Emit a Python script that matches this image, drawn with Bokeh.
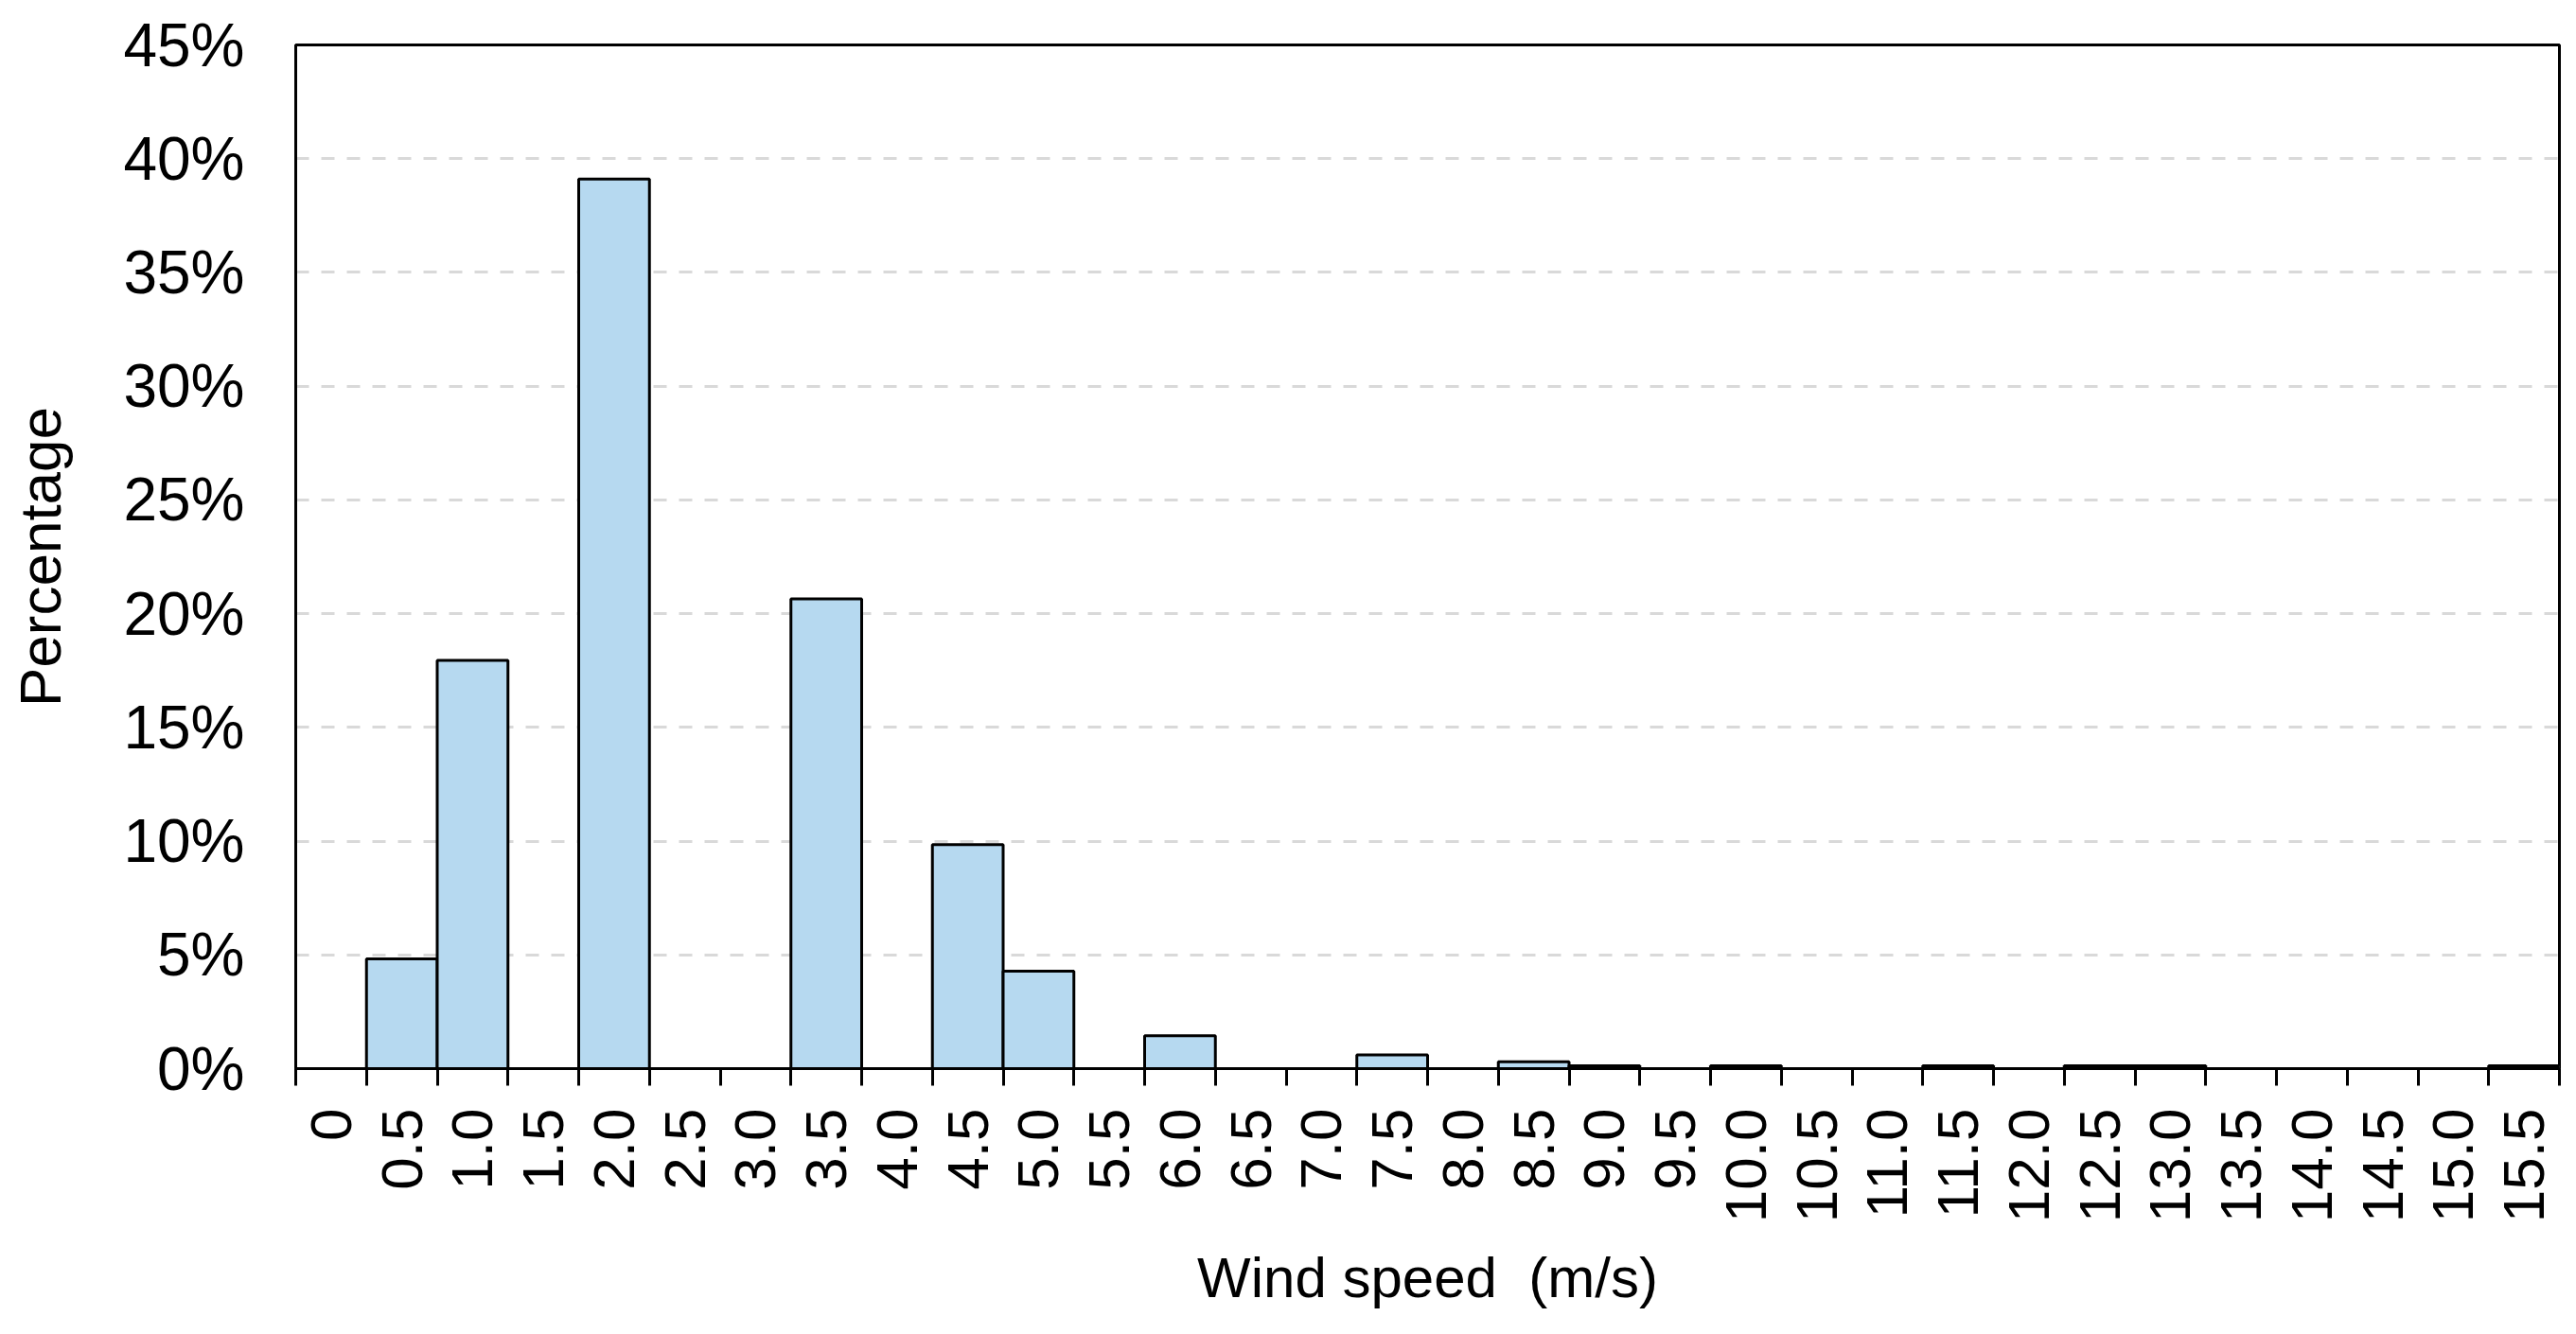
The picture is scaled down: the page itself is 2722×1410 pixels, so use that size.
import numpy as np
from bokeh.plotting import figure
from bokeh.models import Range1d, FixedTicker, PrintfTickFormatter, ColumnDataSource
from bokeh.embed import file_html
from bokeh.resources import INLINE

# ---- data ----
speed_labels = ["0", "0.5", "1.0", "1.5", "2.0", "2.5", "3.0", "3.5", "4.0", "4.5",
                "5.0", "5.5", "6.0", "6.5", "7.0", "7.5", "8.0", "8.5", "9.0", "9.5",
                "10.0", "10.5", "11.0", "11.5", "12.0", "12.5", "13.0", "13.5", "14.0",
                "14.5", "15.0", "15.5"]
percentages = [0.0, 4.82, 17.95, 0.0, 39.1, 0.0, 0.0, 20.65, 0.0, 9.85,
               4.28, 0.0, 1.45, 0.0, 0.0, 0.6, 0.0, 0.3, 0.12, 0.0,
               0.12, 0.0, 0.0, 0.12, 0.0, 0.12, 0.12, 0.0, 0.0,
               0.0, 0.0, 0.12]
y_ticks = [0, 5, 10, 15, 20, 25, 30, 35, 40, 45]

FONT = "Liberation Sans"

n = len(speed_labels)
centers = np.arange(n) + 0.5
mask = np.array(percentages) > 0
src = ColumnDataSource(dict(x=centers[mask], top=np.array(percentages)[mask]))

p = figure(width=2706, height=1394, output_backend="svg", toolbar_location=None,
           x_range=Range1d(0, n), y_range=Range1d(0, 45),
           min_border_left=312, min_border_right=2, min_border_top=47, min_border_bottom=265)

p.vbar(x="x", top="top", width=1.0, bottom=0, source=src,
       fill_color="#B6D9F0", line_color="black", line_width=3)

# frame
p.outline_line_color = "black"
p.outline_line_width = 3
p.outline_line_alpha = 1.0
p.background_fill_color = "white"
p.border_fill_color = "white"

# x axis
xa = p.xaxis[0]
xa.ticker = FixedTicker(ticks=list(centers), minor_ticks=list(range(n + 1)))
xa.major_label_overrides = {float(c): lab for c, lab in zip(centers, speed_labels)}
xa.major_label_orientation = np.pi / 2
xa.major_tick_line_color = None
xa.major_tick_out = 18
xa.major_tick_in = 0
xa.minor_tick_line_color = "black"
xa.minor_tick_line_width = 3
xa.minor_tick_out = 18
xa.minor_tick_in = 0
xa.major_label_standoff = 24
xa.major_label_text_font = FONT
xa.major_label_text_font_size = "62px"
xa.major_label_text_color = "black"
xa.axis_line_color = "black"
xa.axis_line_width = 3
xa.axis_label = "Wind speed\u00a0 (m/s)"
xa.axis_label_text_font = FONT
xa.axis_label_text_font_size = "60px"
xa.axis_label_text_font_style = "normal"
xa.axis_label_text_color = "black"
xa.axis_label_standoff = 22

# y axis
ya = p.yaxis[0]
ya.ticker = FixedTicker(ticks=y_ticks)
ya.formatter = PrintfTickFormatter(format="%d%%")
ya.major_tick_line_color = None
ya.minor_tick_line_color = None
ya.major_tick_out = 0
ya.major_tick_in = 0
ya.major_label_standoff = 54
ya.major_label_text_font = FONT
ya.major_label_text_font_size = "64px"
ya.major_label_text_color = "black"
ya.axis_line_color = "black"
ya.axis_line_width = 3
ya.axis_label = "Percentage"
ya.axis_label_text_font = FONT
ya.axis_label_text_font_size = "62px"
ya.axis_label_text_font_style = "normal"
ya.axis_label_text_color = "black"
ya.axis_label_standoff = 50

# grid
p.xgrid.grid_line_color = None
p.ygrid.grid_line_color = "#D9D9D9"
p.ygrid.grid_line_width = 3
p.ygrid.grid_line_dash = "14 13"

open("out.html", "w").write(file_html(p, INLINE))
